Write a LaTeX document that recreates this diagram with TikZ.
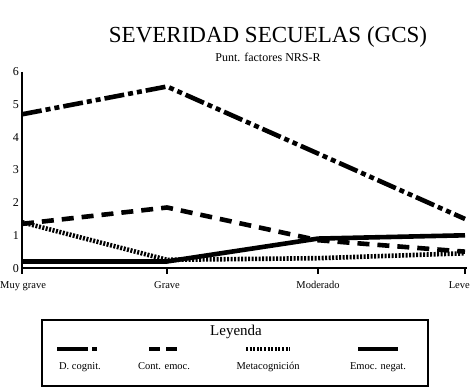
\documentclass[tikz,border=0pt]{standalone}
\usepackage{fontspec}
\setmainfont{Liberation Serif}
\tikzset{
  serie/.style={line width=4.6pt},
  dcog/.style={serie,dash pattern=on 20pt off 4pt on 5pt off 4pt on 5pt off 4pt},
  cemo/.style={serie,dash pattern=on 12pt off 8pt},
  meta/.style={serie,dash pattern=on 2pt off 1.5pt},
  emoc/.style={serie},
  lbl/.style={font=\fontsize{10.5}{12}\selectfont,inner sep=1pt,anchor=base},
}
\begin{document}
\begin{tikzpicture}[x=1pt,y=1pt]
	\useasboundingbox (0,0) rectangle (470,389);
	\node[anchor=base] (titulo) at (268,346) {\fontsize{23}{26}\selectfont SEVERIDAD SECUELAS (GCS)};
	\node[lbl,font=\fontsize{12}{13}\selectfont] (subtitulo) at (268,327) {Punt. factores NRS-R};
	% ejes
	\coordinate (origen) at (22,121);
	\coordinate (ytop) at (22,317);
	\coordinate (xfin) at (467,121);
	\draw[line width=1.8pt] (ytop)--(origen)--(xfin);
	\foreach \y in {0,...,6}{\node[lbl,font=\fontsize{12}{13}\selectfont,anchor=base east] (ye\y) at (20,117+\y*32.7) {\y};}
	\node[lbl,anchor=base west,inner sep=0pt] (xe1) at (0,101) {Muy grave};
	\node[lbl] (xe2) at (167,101) {Grave};
	\node[lbl] (xe3) at (318,101) {Moderado};
	\node[lbl,anchor=base east,inner sep=0pt] (xe4) at (470,101) {Leve};
	\foreach \x in {22,167,318,465}{\draw[line width=1.2pt] (\x,121)--++(0,-6);}
	% datos
	\begin{scope}[shift={(22,121)},y=32.7pt]
		\foreach \n/\a/\b/\c/\d in {dc/4.7/5.55/3.5/1.5,ce/1.35/1.85/0.85/0.5,mc/1.4/0.25/0.3/0.45,en/0.2/0.2/0.9/1.0}{
			\coordinate (\n1) at (0,\a);
			\coordinate (\n2) at (145,\b);
			\coordinate (\n3) at (296,\c);
			\coordinate (\n4) at (443,\d);}
	\end{scope}
	\draw[emoc] (en1)--(en2)--(en3)--(en4);
	\draw[meta] (mc1)--(mc2)--(mc3)--(mc4);
	\draw[cemo] (ce1)--(ce2)--(ce3)--(ce4);
	\draw[dcog] (dc1)--(dc2)--(dc3)--(dc4);
	% leyenda
	\draw[line width=2.2pt] (42,3) rectangle (428,69);
	\node[anchor=base,font=\fontsize{15}{17}\selectfont] (leyenda) at (236,54) {Leyenda};
	\draw[line width=4pt,dash pattern=on 31pt off 4pt on 5pt] (57,40)--(97,40);
	\draw[line width=4pt,dash pattern=on 11pt off 6pt] (149,40)--(177,40);
	\draw[line width=4pt,dash pattern=on 2pt off 1.6pt] (246,40)--(290,40);
	\draw[line width=4pt] (358,40)--(398,40);
	\node[lbl] (l1) at (80,20) {D. cognit.};
	\node[lbl] (l2) at (164,20) {Cont. emoc.};
	\node[lbl] (l3) at (268,20) {Metacognición};
	\node[lbl] (l4) at (378,20) {Emoc. negat.};
\end{tikzpicture}
\end{document}
